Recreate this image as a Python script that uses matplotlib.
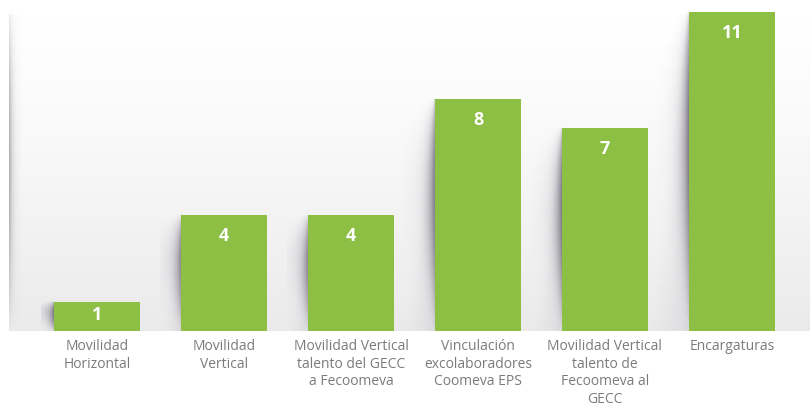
import numpy as np
import matplotlib
matplotlib.use("Agg")
import matplotlib.pyplot as plt

categories = [
    "Movilidad\nHorizontal",
    "Movilidad\nVertical",
    "Movilidad Vertical\ntalento del GECC\na Fecoomeva",
    "Vinculación\nexcolaboradores\nCoomeva EPS",
    "Movilidad Vertical\ntalento de\nFecoomeva al\nGECC",
    "Encargaturas",
]
values = [1, 4, 4, 8, 7, 11]

BAR_COLOR = "#8dbf44"
LABEL_COLOR = "#7b7b7b"
PX_PER_UNIT = 126.9

plt.rcParams["image.composite_image"] = False


def shadow_image(width_units, h=160, w=80):
    # left-side drop shadow: dark band hugging the bar plus a faint wedge
    wpx = width_units * PX_PER_UNIT
    t = np.linspace(0, 1, h)[:, None]          # 0 top -> 1 bottom
    d = np.linspace(1, 0, w)[None, :]          # 0 at the bar edge
    dpx = d * wpx
    prof = np.sin(np.pi * np.clip(t, 0, 1) ** 0.75) ** 0.8
    band = 0.72 * prof * np.exp(-dpx / (1.5 + 5.5 * prof))
    reach = 0.05 + 0.95 * t
    wedge = 0.12 * np.clip(1 - d / reach, 0, 1) ** 1.5
    img = np.zeros((h, w, 4))
    img[..., 0] = 0.40
    img[..., 1] = 0.38
    img[..., 2] = 0.44
    img[..., 3] = np.clip(band + wedge, 0, 0.8)
    return img


fig = plt.figure(figsize=(8.10, 4.08), dpi=100)
ax = fig.add_axes([9 / 810, 77 / 408, 801 / 810, 331 / 408])

x = np.arange(len(values))
xlim = (-0.696, 5.616)
ylim = (0, 11.41)

# background gradient: white at the top, light gray at the baseline
grad = np.linspace(0, 1, 256)[:, None]
top, bottom = np.array([1.0, 1.0, 1.0]), np.array([0.918, 0.918, 0.922])
bg = np.ones((256, 2, 3))
bg[:] = top + (bottom - top) * grad[..., None] ** 1.3
ax.imshow(bg, extent=(xlim[0], xlim[1], ylim[0], 10.9), origin="upper",
          aspect="auto", zorder=0, interpolation="bilinear")

# shadow along the left edge of the plot area
tt = np.linspace(0, 1, 64)[:, None]
dd = np.linspace(0, 1, 40)[None, :]
edge = np.zeros((64, 40, 4))
edge[..., :3] = 0.4
edge[..., 3] = 0.55 * np.sin(np.pi * (0.05 + 0.95 * tt)) ** 0.8 * np.exp(-dd / 0.25)
ax.imshow(edge, extent=(xlim[0], xlim[0] + 0.1, 0, 10.9), origin="upper",
          aspect="auto", zorder=1, interpolation="bilinear")

width = 0.68
for xi, v in zip(x, values):
    left = xi - width / 2
    sw = 0.08 + 0.022 * v
    ax.imshow(shadow_image(sw), extent=(left - sw, left, 0, v), origin="upper",
              aspect="auto", zorder=1, interpolation="bilinear")

bars = ax.bar(x, values, width=width, color=BAR_COLOR, zorder=3)

for rect, v in zip(bars, values):
    cx = rect.get_x() + rect.get_width() / 2
    if v < 2:
        ax.text(cx, v * 0.55, str(v), ha="center", va="center", color="white",
                fontsize=13, fontweight="bold", family="Open Sans", zorder=4)
    else:
        ax.annotate(str(v), (cx, v), xytext=(0, -15.5), textcoords="offset points",
                    ha="center", va="center", color="white",
                    fontsize=13, fontweight="bold", family="Open Sans", zorder=4)

ax.set_xlim(*xlim)
ax.set_ylim(*ylim)
ax.set_xticks(x, categories, fontsize=10, color=LABEL_COLOR, family="Open Sans",
              linespacing=1.22, va="top")
ax.tick_params(axis="x", length=0, pad=6)
ax.set_yticks([])
for s in ax.spines.values():
    s.set_visible(False)

fig.savefig("out.png", dpi=100)
